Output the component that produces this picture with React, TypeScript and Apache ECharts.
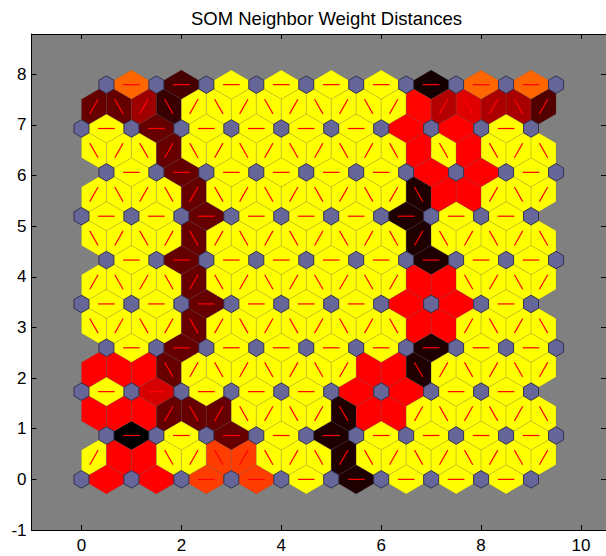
import { useEffect, useRef } from "react";
import * as echarts from "echarts";

const TITLE = "SOM Neighbor Weight Distances";
const GRID_ROWS = 10;
const GRID_COLS = 10;
const X_TICKS = [0, 2, 4, 6, 8, 10];
const Y_TICKS = [-1, 0, 1, 2, 3, 4, 5, 6, 7, 8];

// Normalized neighbor weight distance (0 = closest, 1 = farthest)
// Horizontal neighbours: row r, between column c and c+1
const H_ROW0 = [0.5, 0.5, 0.38, 0.38, 0, 0.94, 0, 0, 0];
const H_ROW1 = [1.0, 0, 0.8, 0, 0.94, 0, 0, 0, 0];
const H_ROW2 = [0, 0.58, 0, 0, 0, 0.5, 0.5, 0, 0];
const H_ROW3 = [0, 0.8, 0, 0, 0, 0, 0.94, 0, 0];
const H_ROW4 = [0, 0, 0.8, 0, 0, 0, 0.5, 0.5, 0];
const H_ROW5 = [0, 0.8, 0, 0, 0, 0, 0.94, 0, 0];
const H_ROW6 = [0, 0, 0.8, 0, 0, 0, 0.94, 0, 0];
const H_ROW7 = [0, 0.8, 0, 0, 0, 0, 0.5, 0.5, 0];
const H_ROW8 = [0, 0.8, 0, 0, 0, 0, 0.5, 0.5, 0];
const H_ROW9 = [0.3, 0.86, 0, 0, 0, 0, 0.96, 0.3, 0.3];
const H_DIST = [H_ROW0, H_ROW1, H_ROW2, H_ROW3, H_ROW4, H_ROW5, H_ROW6, H_ROW7, H_ROW8, H_ROW9];

// Diagonal neighbours between row r and r+1, ordered left to right (19 each)
const D_ROW01 = [0, 0.5, 0.5, 0, 0, 0.38, 0.38, 0, 0, 0, 0.94, 0, 0, 0, 0, 0, 0, 0, 0];
const D_ROW12 = [0.5, 0.5, 0.5, 0.8, 0.8, 0.8, 0, 0, 0, 0, 0.94, 0.5, 0.5, 0, 0, 0, 0, 0, 0];
const D_ROW23 = [0.5, 0.5, 0.5, 0.8, 0, 0, 0, 0, 0, 0, 0, 0.5, 0.5, 0.94, 0, 0, 0, 0, 0];
const D_ROW34 = [0, 0, 0, 0, 0.8, 0, 0, 0, 0, 0, 0, 0, 0, 0.5, 0.5, 0, 0, 0, 0];
const D_ROW45 = [0, 0, 0, 0, 0.8, 0, 0, 0, 0, 0, 0, 0, 0, 0.5, 0.5, 0, 0, 0, 0];
const D_ROW56 = [0, 0, 0, 0, 0.8, 0, 0, 0, 0, 0, 0, 0, 0, 0.94, 0, 0, 0, 0, 0];
const D_ROW67 = [0, 0, 0, 0, 0.8, 0, 0, 0, 0, 0, 0, 0, 0, 0.94, 0.5, 0.5, 0, 0, 0];
const D_ROW78 = [0, 0, 0, 0.8, 0, 0, 0, 0, 0, 0, 0, 0, 0, 0.5, 0, 0.5, 0, 0, 0];
const D_ROW89 = [0.8, 0.8, 0.69, 0.89, 0, 0, 0, 0, 0, 0, 0, 0, 0, 0.49, 0.65, 0.56, 0.66, 0.67, 0.84];
const D_DIST = [D_ROW01, D_ROW12, D_ROW23, D_ROW34, D_ROW45, D_ROW56, D_ROW67, D_ROW78, D_ROW89];

const ROW_H = Math.sqrt(0.75);
const Z = Math.sqrt(0.75) / 3;

function neuronPos(r: number, c: number): [number, number] {
  return [c + 0.5 * (r % 2), r * ROW_H];
}

function distColor(d: number): string {
  const l = 1 - d;
  const r = Math.round(Math.min(2 * l, 1) * 255);
  const g = Math.round(Math.max(2 * l - 1, 0) * 255);
  return `rgb(${r},${g},0)`;
}

type Edge = [number, number, number, number, number]; // ax, ay, bx, by, dist

function buildEdges(): Edge[] {
  const edges: Edge[] = [];
  for (let r = 0; r < GRID_ROWS; r++) {
    for (let c = 0; c < GRID_COLS - 1; c++) {
      const a = neuronPos(r, c);
      const b = neuronPos(r, c + 1);
      edges.push([a[0], a[1], b[0], b[1], H_DIST[r][c]]);
    }
  }
  for (let r = 0; r < GRID_ROWS - 1; r++) {
    for (let k = 0; k < 2 * GRID_COLS - 1; k++) {
      let ca: number, cb: number;
      if (r % 2 === 0) {
        if (k % 2 === 0) { ca = k / 2; cb = k / 2; } else { ca = (k + 1) / 2; cb = (k - 1) / 2; }
      } else {
        if (k % 2 === 0) { ca = k / 2; cb = k / 2; } else { ca = (k - 1) / 2; cb = (k + 1) / 2; }
      }
      const a = neuronPos(r, ca);
      const b = neuronPos(r + 1, cb);
      edges.push([a[0], a[1], b[0], b[1], D_DIST[r][k]]);
    }
  }
  return edges;
}

function buildNeurons(): [number, number][] {
  const out: [number, number][] = [];
  for (let r = 0; r < GRID_ROWS; r++) for (let c = 0; c < GRID_COLS; c++) out.push(neuronPos(r, c));
  return out;
}

const FONT = "'Liberation Sans', Arial, Helvetica, sans-serif";

export default function App() {
  const ref = useRef<HTMLDivElement>(null);
  useEffect(() => {
    if (!ref.current) return;
    const chart = echarts.init(ref.current, undefined, { renderer: "svg" });
    const edges = buildEdges();
    const neurons = buildNeurons();
    const yMax = (GRID_ROWS - 1) * ROW_H + 1;
    const xMax = GRID_COLS - 1 + 0.5 + 1;

    const axisCommon = {
      type: "value" as const,
      axisLine: { show: true, onZero: false, lineStyle: { color: "#000", width: 1 } },
      splitLine: { show: false },
    };

    chart.setOption({
      animation: false,
      backgroundColor: "#fff",
      title: {
        text: TITLE,
        left: 321.5,
        textAlign: "center",
        top: 4,
        textStyle: { fontFamily: FONT, fontSize: 18.5, fontWeight: "normal", color: "#000" },
      },
      grid: {
        left: 31.5,
        right: -6,
        top: 34,
        bottom: 26,
        show: true,
        backgroundColor: "#808080",
        borderWidth: 0,
      },
      xAxis: [
        {
          ...axisCommon,
          min: -1,
          max: xMax,
          position: "bottom",
          axisTick: { show: true, inside: true, length: 5, customValues: X_TICKS, lineStyle: { color: "#000" } },
          axisLabel: { show: true, customValues: X_TICKS, color: "#000", fontSize: 17, fontFamily: FONT, margin: 7 },
        },
        {
          ...axisCommon,
          min: -1,
          max: xMax,
          position: "top",
          axisTick: { show: true, inside: true, length: 5, customValues: X_TICKS, lineStyle: { color: "#000" } },
          axisLabel: { show: false },
        },
      ],
      yAxis: [
        {
          ...axisCommon,
          min: -1,
          max: yMax,
          position: "left",
          axisTick: { show: true, inside: true, length: 5, customValues: Y_TICKS, lineStyle: { color: "#000" } },
          axisLabel: { show: true, customValues: Y_TICKS, color: "#000", fontSize: 17, fontFamily: FONT, margin: 5 },
        },
        {
          ...axisCommon,
          min: -1,
          max: yMax,
          position: "right",
          axisTick: { show: true, inside: true, length: 5, customValues: Y_TICKS, lineStyle: { color: "#000" } },
          axisLabel: { show: false },
        },
      ],
      series: [
        {
          type: "custom",
          xAxisIndex: 0,
          yAxisIndex: 0,
          silent: true,
          data: edges,
          renderItem: (_params: any, api: any) => {
            const ax = api.value(0), ay = api.value(1), bx = api.value(2), by = api.value(3), d = api.value(4);
            const ux = bx - ax, uy = by - ay;
            const mx = (ax + bx) / 2, my = (ay + by) / 2;
            const nx = -uy * Z, ny = ux * Z;
            const pts = [
              api.coord([ax, ay]),
              api.coord([mx + nx, my + ny]),
              api.coord([bx, by]),
              api.coord([mx - nx, my - ny]),
            ];
            const p1 = api.coord([ax + ux / 3, ay + uy / 3]);
            const p2 = api.coord([ax + (2 * ux) / 3, ay + (2 * uy) / 3]);
            return {
              type: "group",
              children: [
                {
                  type: "polygon",
                  shape: { points: pts },
                  style: { fill: distColor(d), stroke: "rgba(90,90,90,0.18)", lineWidth: 1 },
                },
                {
                  type: "line",
                  shape: { x1: p1[0], y1: p1[1], x2: p2[0], y2: p2[1] },
                  style: { stroke: "#ff0000", lineWidth: 1.2 },
                },
              ],
            };
          },
        },
        {
          type: "custom",
          xAxisIndex: 0,
          yAxisIndex: 0,
          silent: true,
          data: neurons,
          renderItem: (_params: any, api: any) => {
            const x = api.value(0), y = api.value(1);
            const sx = 0.15, sy = Z * 0.3;
            const pts = [
              [x - sx, y + sy],
              [x, y + 2 * sy],
              [x + sx, y + sy],
              [x + sx, y - sy],
              [x, y - 2 * sy],
              [x - sx, y - sy],
            ].map((p) => api.coord(p));
            return {
              type: "polygon",
              shape: { points: pts },
              style: { fill: "rgb(102,102,153)", stroke: "rgb(50,50,80)", lineWidth: 1 },
            };
          },
        },
      ],
    });
    return () => chart.dispose();
  }, []);
  return (
    <div
      ref={ref}
      style={{ position: "fixed", left: 0, top: 0, width: 606, height: 556, background: "#fff" }}
    />
  );
}
